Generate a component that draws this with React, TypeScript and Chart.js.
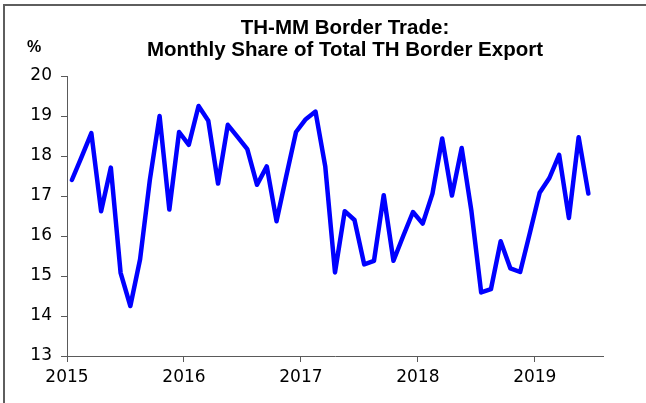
import React, { useEffect, useRef } from 'react';
import { Chart, registerables } from 'chart.js';

Chart.register(...registerables);

// Tick labels (x axis, one per January)
const yearLabels = ['2015', '2016', '2017', '2018', '2019'];
// Y axis range (%)
const yMin = 13;
const yMax = 20;
// Number of months covered by the x axis (Jan 2015 – Jul 2019)
const axisMonths = 55;

// Monthly share of total TH border export going to MM (%)
const share2015 = [17.4, 17.98, 18.57, 16.62, 17.71, 15.08, 14.25, 15.42, 17.4, 19.0, 16.66, 18.6];
const share2016 = [18.28, 19.25, 18.88, 17.31, 18.78, 18.48, 18.17, 17.28, 17.74, 16.37, 17.5, 18.6];
const share2017 = [18.92, 19.11, 17.74, 15.09, 16.62, 16.4, 15.29, 15.38, 17.02, 15.38, 16.0, 16.6];
const share2018 = [16.31, 17.06, 18.44, 17.01, 18.2, 16.62, 14.59, 14.67, 15.87, 15.19, 15.1, 16.08];
const share2019 = [17.08, 17.45, 18.03, 16.45, 18.47, 17.06];

const titleLines = ['TH-MM Border Trade:', 'Monthly Share of Total TH Border Export'];
const unitLabel = '%';

export default function App() {
  const ref = useRef<HTMLCanvasElement>(null);

  useEffect(() => {
    if (!ref.current) return;
    const series = [...share2015, ...share2016, ...share2017, ...share2018, ...share2019];
    // each monthly value sits in the middle of its month
    const points = series.map((v, i) => ({ x: i + 0.5, y: v }));

    const textPlugin = {
      id: 'titleText',
      afterDraw(chart: any) {
        const ctx = chart.ctx;
        ctx.save();
        ctx.fillStyle = '#000';
        ctx.textAlign = 'center';
        ctx.textBaseline = 'middle';
        ctx.font = 'bold 20.5px "Liberation Sans", Arial, sans-serif';
        ctx.fillText(titleLines[0], 345, 28);
        ctx.fillText(titleLines[1], 345, 50);
        ctx.font = 'bold 16px "Liberation Sans", Arial, sans-serif';
        ctx.fillText(unitLabel, 34, 48);
        ctx.restore();
      },
    };

    const tickFont = { family: '"DejaVu Sans", sans-serif', size: 17 };
    const axisColor = '#5a5a5a';

    const chart = new Chart(ref.current, {
      type: 'line',
      data: {
        datasets: [
          {
            data: points,
            borderColor: '#0000ff',
            backgroundColor: '#0000ff',
            borderWidth: 4.5,
            pointRadius: 0,
            tension: 0,
            fill: false,
            borderJoinStyle: 'round',
            borderCapStyle: 'round',
          },
        ],
      },
      options: {
        animation: false,
        responsive: false,
        layout: { padding: { top: 76, right: 43, left: 0, bottom: 0 } },
        plugins: {
          legend: { display: false },
          tooltip: { enabled: false },
          title: { display: false },
        },
        scales: {
          x: {
            type: 'linear',
            min: 0,
            max: axisMonths,
            afterBuildTicks: (s: any) => {
              s.ticks = yearLabels.map((_, i) => ({ value: i * 12 }));
            },
            afterFit: (s: any) => {
              s.height = 47;
            },
            ticks: {
              callback: (v: any) => yearLabels[Math.round(Number(v) / 12)],
              color: '#000',
              font: tickFont,
              padding: 5,
              maxRotation: 0,
              autoSkip: false,
            },
            grid: {
              display: true,
              drawOnChartArea: false,
              drawTicks: true,
              tickLength: 6,
              color: axisColor,
            },
            border: { display: true, color: axisColor, width: 1 },
          },
          y: {
            min: yMin,
            max: yMax,
            afterFit: (s: any) => {
              s.width = 67;
            },
            ticks: {
              stepSize: 1,
              color: '#000',
              font: tickFont,
              padding: 9,
            },
            grid: {
              display: true,
              drawOnChartArea: false,
              drawTicks: true,
              tickLength: 6,
              color: axisColor,
            },
            border: { display: true, color: axisColor, width: 1 },
          },
        },
      },
      plugins: [textPlugin],
    } as any);

    return () => chart.destroy();
  }, []);

  return (
    <div
      style={{
        position: 'absolute',
        left: 0,
        top: 0,
        width: 646,
        height: 403,
        overflow: 'hidden',
        background: '#fff',
      }}
    >
      <canvas ref={ref} width={646} height={403} style={{ display: 'block' }} />
      <div
        style={{
          position: 'absolute',
          left: 3,
          top: 4,
          width: 643,
          height: 399,
          borderTop: '2px solid #5e5e5e',
          borderLeft: '2px solid #5e5e5e',
          boxSizing: 'border-box',
          pointerEvents: 'none',
        }}
      />
    </div>
  );
}
